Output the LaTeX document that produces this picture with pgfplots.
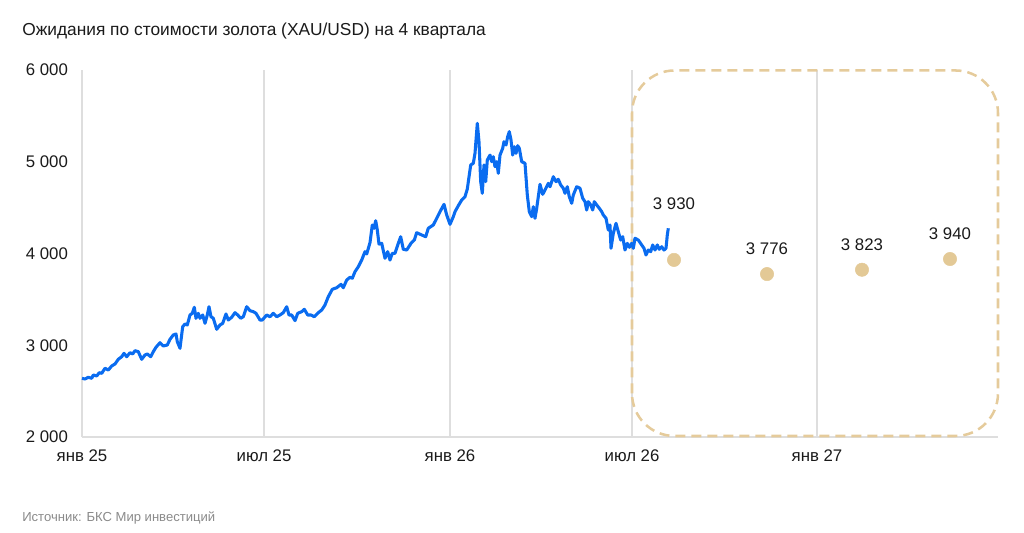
\documentclass[border=0pt]{standalone}
\usepackage{pgfplots}
\pgfplotsset{compat=1.18}
\usepackage{fontspec}
\setmainfont{Liberation Sans}
\definecolor{goldblue}{HTML}{0A6CF0}
\definecolor{dotc}{HTML}{E3C996}
\definecolor{boxc}{HTML}{E5CB9B}
\definecolor{gridc}{HTML}{DEDEDE}
\definecolor{txt}{HTML}{1A1A1A}
\definecolor{srcc}{HTML}{8A8A8A}
\begin{document}
\begin{tikzpicture}
\path[use as bounding box] (0,0) rectangle (768pt,-399pt);
\node[anchor=west, font=\fontsize{13pt}{15pt}\selectfont, text=txt, inner sep=0pt] at (16.5pt,-23pt) {Ожидания по стоимости золота (XAU/USD) на 4 квартала};
\node[anchor=west, font=\fontsize{9.8pt}{11pt}\selectfont, text=srcc, inner sep=0pt] at (16.5pt,-388.5pt) {Источник: БКС Мир инвестиций};
\begin{axis}[
  at={(61.5pt,-327.75pt)}, anchor=south west,
  scale only axis, width=687pt, height=275.25pt,
  xmin=0, xmax=916, ymin=2000, ymax=6000,
  clip=false,
  axis x line*=bottom, axis y line*=left,
  x axis line style={draw=gridc, line width=0.8pt},
  y axis line style={draw=none},
  xtick={0,182,368,550,735},
  xticklabels={янв 25, июл 25, янв 26, июл 26, янв 27},
  ytick={2000,3000,4000,5000,6000},
  yticklabels={2 000,3 000,4 000,5 000,6 000},
  major tick length=0pt,
  xmajorgrids, grid style={draw=gridc, line width=0.8pt},
  tick label style={font=\fontsize{12.6pt}{14pt}\selectfont, text=txt},
  xticklabel style={yshift=-6pt},
  yticklabel style={xshift=-7pt},
]
\draw[boxc, line width=1.9pt, dash pattern=on 7.5pt off 4.5pt, rounded corners=32pt]
  (axis cs:550,2011) rectangle (axis cs:916,5995);
\addplot[goldblue, line width=2.3pt, line join=round] coordinates {
(0,2640) (3,2632) (6.3,2651) (9.7,2640) (11.3,2676) (14.7,2665) (17.3,2701) (19.7,2694)
(23,2749) (26.3,2730) (29.7,2774) (33,2796) (36.3,2847) (39.7,2875) (42,2912) (44.7,2875)
(48,2919) (50.7,2905) (53,2941) (56.3,2930) (59.7,2847) (63,2894) (65.3,2905) (68.7,2875)
(71.3,2930) (74,2978) (78,3028) (81.3,2992) (85.3,3003) (88,3065) (91.3,3112) (94,3123)
(95.3,3039) (98,2967) (100.7,3202) (103,3232) (105.3,3221) (108,3330) (110.3,3348) (112.3,3414)
(114,3294) (116.3,3348) (118,3294) (120.7,3330) (123,3239) (125.3,3330) (127,3420) (129,3311)
(131.3,3294) (134.7,3174) (138,3221) (140.7,3239) (144,3341) (146.3,3275) (149.7,3305) (153,3355)
(155.7,3330) (158.7,3294) (161.3,3311) (164.7,3420) (168,3377) (171.3,3366) (174,3348) (178,3275)
(180.3,3275) (184.7,3330) (188,3311) (191.3,3348) (194.7,3311) (198,3330) (201.3,3355) (204.7,3420)
(207,3330) (209.7,3330) (213,3268) (215.7,3348) (219.7,3366) (222.3,3392) (225.7,3330) (229,3330)
(232.3,3311) (236.3,3355) (239.7,3384) (243,3439) (246.3,3529) (250.3,3610) (254.7,3627) (259,3664)
(261.3,3627) (264.7,3711) (268,3741) (270.3,3730) (273,3802) (276.3,3856) (279.7,3929) (283,4020)
(284.7,3995) (288,4118) (290.3,4311) (292,4275) (293.7,4357) (295.3,4256) (297,4103) (299.7,4111)
(303,3948) (305.7,4020) (308,3929) (310.3,4002) (313,4002) (316.3,4111) (318.7,4183) (321.3,4046)
(324.7,4038) (329,4111) (332.3,4147) (334.7,4227) (339.7,4202) (343.7,4183) (346.3,4275) (351.3,4311)
(353,4347) (358,4456) (362,4536) (364.7,4420) (368,4318) (371.3,4401) (373,4456) (376.3,4521)
(379.7,4583) (383,4619) (385.3,4703) (388.7,4965) (391.3,4983) (393,5092) (395.3,5419) (397,5218)
(398.7,4783) (400.3,4656) (402,4965) (403.7,4783) (405.3,5019) (408,5073) (409.7,5001) (411.3,5055)
(413,4946) (414.7,5001) (416.3,4874) (418,5073) (420.7,5147) (422,5218) (424,5183) (425.7,5273)
(427.3,5328) (429,5237) (430.7,5073) (432.3,5164) (434,5092) (435.7,5175) (437.3,5147) (439.7,5001)
(443,4983) (445.3,4638) (447.3,4456) (449.7,4401) (451.3,4510) (453,4384) (454.7,4493) (458,4754)
(460.7,4645) (463,4692) (466.3,4765) (468,4728) (471.3,4837) (474,4783) (476.3,4809) (478.7,4747)
(481.3,4711) (483,4656) (485.3,4728) (487.3,4619) (489.7,4547) (491.3,4638) (494.7,4728) (498,4711)
(500.7,4602) (503,4565) (504.7,4474) (506.3,4565) (508.7,4529) (510.7,4474) (512.3,4565) (514.7,4529)
(517.3,4493) (519.7,4456) (521.3,4420) (524,4384) (526.3,4256) (528,4311) (529,4057) (531.3,4220)
(534,4329) (536.3,4238) (538.7,4147) (540.7,4183) (543,4038) (545.3,4111) (547.3,4068) (549.7,4111)
(551.3,4057) (553,4166) (556.3,4147) (559.7,4093) (562,4057) (564,3984) (566.3,4038) (568.7,4020)
(570.7,4093) (573,4038) (575.3,4093) (577.3,4046) (579.7,4074) (582,4038) (584,4057) (585.3,4202)
(586.3,4275)
};
\addplot[only marks, mark=*, mark size=5pt, color=dotc,
  point meta=explicit symbolic, nodes near coords,
  nodes near coords style={font=\fontsize{12.6pt}{14pt}\selectfont, text=txt, anchor=center, yshift=42pt}]
  coordinates {(592,3930) [3 930]};
\addplot[only marks, mark=*, mark size=5pt, color=dotc,
  point meta=explicit symbolic, nodes near coords,
  nodes near coords style={font=\fontsize{12.6pt}{14pt}\selectfont, text=txt, anchor=center, yshift=19pt}]
  coordinates {(685,3776) [3 776] (780,3823) [3 823] (868,3940) [3 940]};
\end{axis}
\end{tikzpicture}
\end{document}
